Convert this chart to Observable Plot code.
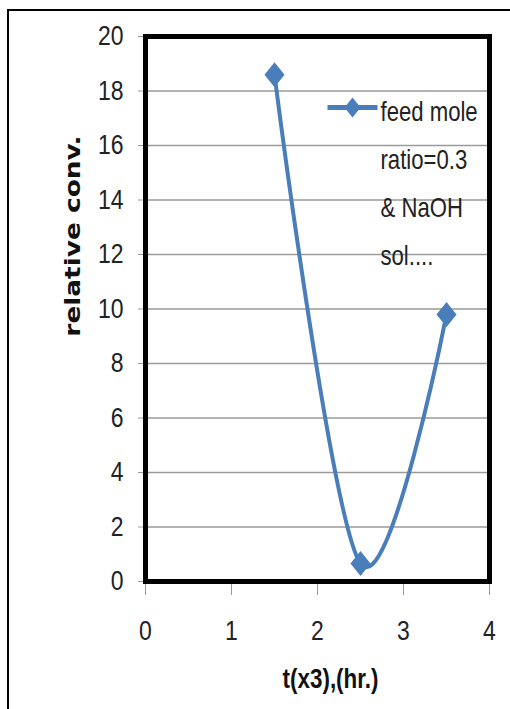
<!DOCTYPE html>
<html>
<head>
<meta charset="utf-8">
<script src="https://cdn.jsdelivr.net/npm/d3@7"></script>
<script src="https://cdn.jsdelivr.net/npm/@observablehq/plot@0.6"></script>
<style>
  html, body { margin: 0; padding: 0; background: white; }
  #wrap { position: relative; width: 510px; height: 709px; overflow: hidden; }
  #border { position: absolute; left: 7px; top: 9px; width: 600px; height: 800px;
            border-left: 2.5px solid #000; border-top: 2.5px solid #000; pointer-events: none; }
</style>
</head>
<body>
<div id="wrap"><div id="border"></div></div>
<script>
// ---- data ----
const times = [1.5, 2.5, 3.5];
const relConv = [18.6, 0.66, 9.8];
const xTicks = [0, 1, 2, 3, 4];
const yTicks = [0, 2, 4, 6, 8, 10, 12, 14, 16, 18, 20];
const legendLines = ["feed mole", "ratio=0.3", "& NaOH", "sol...."];
const xLabel = "t(x3),(hr.)";
const yLabel = "relative conv.";

const data = times.map((t, i) => ({t, v: relConv[i]}));
const blue = "#4a7ebb";
const sans = "'Liberation Sans', Arial, sans-serif";

const diamond = {
  draw(ctx, size) {
    const r = Math.sqrt(size / Math.PI);
    ctx.moveTo(0, -r * 1.25);
    ctx.lineTo(r, 0);
    ctx.lineTo(0, r * 1.25);
    ctx.lineTo(-r, 0);
    ctx.closePath();
  }
};
const legendBar = {
  draw(ctx, size) {
    ctx.rect(-25, -2.5, 50, 5);
  }
};

const chart = Plot.plot({
  width: 510,
  height: 709,
  marginLeft: 145,
  marginRight: 21,
  marginTop: 36,
  marginBottom: 128,
  style: {background: "transparent", fontFamily: sans},
  x: {domain: [0, 4]},
  y: {domain: [0, 20]},
  marks: [
    Plot.gridY(yTicks.filter(d => d > 0 && d < 20), {stroke: "#9a9a9a", strokeOpacity: 1, strokeWidth: 1.5}),
    Plot.axisY(yTicks, {tickSize: 7, tickPadding: 15, fontSize: 28, stroke: "#9a9a9a", fill: "#222", label: null}),
    Plot.axisX(xTicks, {tickSize: 14, tickPadding: 25, fontSize: 28, stroke: "#9a9a9a", fill: "#222", label: null}),
    Plot.frame({stroke: "#000", strokeWidth: 5}),
    Plot.line(data, {x: "t", y: "v", curve: "cardinal", stroke: blue, strokeWidth: 4}),
    Plot.dot(data, {x: "t", y: "v", symbol: diamond, r: 10, fill: blue, stroke: null}),
    // legend (inside plot area, top right)
    Plot.dot([0], {frameAnchor: "top-left", dx: 207, dy: 71, symbol: legendBar, r: 5, fill: blue, stroke: null}),
    Plot.dot([0], {frameAnchor: "top-left", dx: 207, dy: 71, symbol: diamond, r: 8, fill: blue, stroke: null}),
    Plot.text([legendLines.join("\n")], {frameAnchor: "top-left", dx: 235, dy: 50, text: d => d, textAnchor: "start", lineAnchor: "top", lineHeight: 1.78, fontSize: 27, fill: "#222"}),
    // axis titles
    Plot.text([yLabel], {frameAnchor: "left", dx: -73, dy: -73, text: d => d, rotate: -90, textAnchor: "middle", lineAnchor: "middle", fontSize: 22, fontWeight: "bold", fontFamily: "'DejaVu Sans', sans-serif", fill: "#111"}),
    Plot.text([xLabel], {frameAnchor: "bottom", dx: 13, dy: 106, text: d => d, textAnchor: "middle", fontSize: 28, fontWeight: "bold", fill: "#111"})
  ]
});

// narrow/tall glyphs as in the original (stretched Calibri look)
d3.select(chart).selectAll("text").each(function() {
  const txt = this.textContent;
  let s = "scale(0.82,1)";
  if (txt === yLabel) s = "scale(1.2,1)";
  else if (txt === xLabel) s = "scale(0.8,1)";
  const t = this.getAttribute("transform") || "";
  this.setAttribute("transform", (t + " " + s).trim());
});

chart.style.position = "absolute";
chart.style.left = "0px";
chart.style.top = "0px";
document.getElementById("wrap").appendChild(chart);
</script>
</body>
</html>
